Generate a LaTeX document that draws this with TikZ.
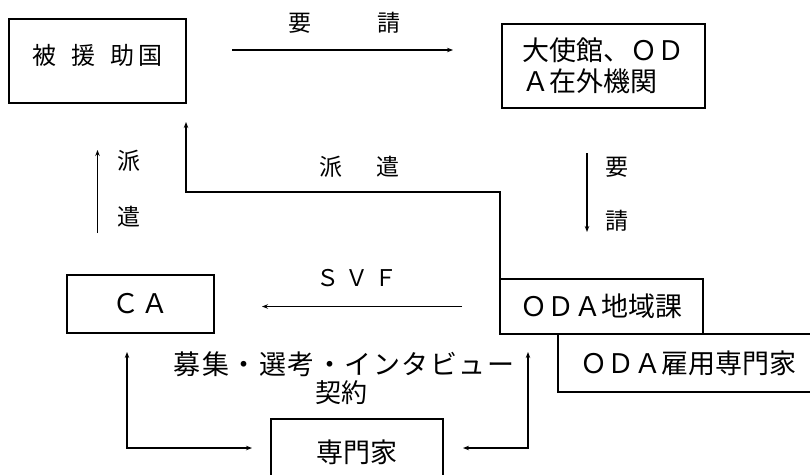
\documentclass[tikz,border=0pt]{standalone}
\usepackage{fontspec}
\newfontfamily\jp{Noto Sans CJK JP}
\newfontfamily\jpwide[LetterSpace=5.5]{Noto Sans CJK JP}
\usetikzlibrary{arrows.meta,calc}
\begin{document}
\begin{tikzpicture}[x=1pt,y=-1pt,
  box/.style={draw,line width=1.3pt,inner sep=0pt,outer sep=0pt,font=\jp\fontsize{27}{31}\selectfont},
  lbl/.style={inner sep=0pt,font=\jp\fontsize{23}{26}\selectfont},
  conn/.style={line width=1.3pt,-{Stealth[length=6pt,width=4.5pt]}},
  conn2/.style={line width=1.3pt,{Stealth[length=6pt,width=4.5pt]}-{Stealth[length=6pt,width=4.5pt]}}]
\useasboundingbox (0,0) rectangle (810,474);
% boxes
\node[box,minimum width=177pt,minimum height=84pt] (n1) at (97.5,61)
  {\raisebox{14pt}{\fontsize{24}{28}\selectfont 被\hspace{15pt}援\hspace{15pt}助\hspace{5pt}国}};
\node[box,minimum width=203pt,minimum height=84pt,align=left] (n2) at (603.5,66)
  {大使館、ＯＤ\\ Ａ在外機関};
\node[box,minimum width=203pt,minimum height=55pt] (n3) at (601.5,306.5) {ＯＤＡ地域課};
\node[box,minimum width=260pt,minimum height=58pt] (n4) at (688,363) {ＯＤＡ雇用専門家};
\node[box,minimum width=147pt,minimum height=58pt] (n5) at (140.5,304) {Ｃ\hspace{2pt}Ａ};
\node[box,minimum width=172pt,minimum height=66pt] (n6) at (357,452) {専門家};
% helper coordinates
\coordinate (t1) at ([yshift=11pt]n1.east);
\coordinate (r1) at ([xshift=-16.5pt]n2.south);
\coordinate (c1) at ([xshift=-13.5pt]n5.south);
\coordinate (c2) at ([yshift=4pt]n6.west);
\coordinate (d1) at ([xshift=28pt]n3.south west);
\coordinate (c3) at ([yshift=4pt]n6.east);
% connectors
\draw[conn,shorten <=46pt,shorten >=49pt] (t1) -- (t1 -| n2.west);
\draw[conn,shorten <=45pt,shorten >=47pt] (r1) -- (r1 |- n3.north);
\draw[conn,shorten >=19pt] (n3.north west) -- ++(0,-87) -| (n1.south east);
\draw[conn,shorten <=42pt,shorten >=47pt] (n1.south |- n5.north) -- (n1.south);
\draw[conn,shorten <=38pt,shorten >=48pt] (n3.west) -- (n3.west -| n5.east);
\draw[conn2,shorten <=19pt,shorten >=19pt] (c1) |- (c2);
\draw[conn2,shorten <=18pt,shorten >=20pt] (d1) |- (c3);
% labels
\node[lbl] (l1) at (300,23) {要};
\node[lbl] (l2) at (389,23) {請};
\node[lbl] (l3) at (617,167) {要};
\node[lbl] (l4) at (617,221) {請};
\node[lbl] (l5) at (331,167) {派};
\node[lbl] (l6) at (388,167) {遣};
\node[lbl] (l7) at (129,161) {派};
\node[lbl] (l8) at (129,217) {遣};
\node[lbl] (l9) at (357,278) {Ｓ\hspace{6pt}Ｖ\hspace{6pt}Ｆ};
\node[lbl,font=\jpwide\fontsize{27}{30}\selectfont] (l10) at (344,364) {募集・選考・インタビュー};
\node[lbl,font=\jp\fontsize{26}{30}\selectfont] (l11) at (341,393) {契約};
\end{tikzpicture}
\end{document}
